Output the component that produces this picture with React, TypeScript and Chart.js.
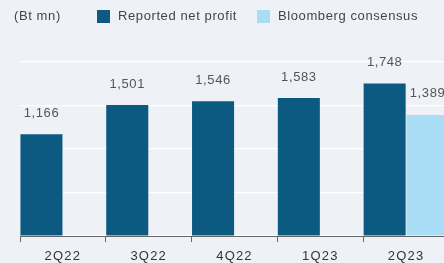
import React, { useEffect, useRef } from "react";
import { Chart, registerables } from "chart.js";

Chart.register(...registerables);

const categories = ["2Q22", "3Q22", "4Q22", "1Q23", "2Q23"];
const reportedNetProfit = [1166, 1501, 1546, 1583, 1748];
const bloombergConsensus = [null, null, null, null, 1389];
const yTicks = [0, 500, 1000, 1500, 2000];
const unitLabel = "(Bt mn)";
const seriesNames = ["Reported net profit", "Bloomberg consensus"];

const DARK = "#0c5a82";
const LIGHT = "#a9ddf6";
const BG = "#eef2f6";
const FONT = "'Liberation Sans', Arial, sans-serif";

const labelsPlugin = {
  id: "customLabels",
  afterDatasetsDraw(chart: any) {
    const ctx = chart.ctx;
    ctx.save();
    ctx.font = `13px ${FONT}`;
    ctx.fillStyle = "#555";
    ctx.textAlign = "center";
    ctx.textBaseline = "middle";
    (ctx as any).letterSpacing = "0.6px";
    chart.data.datasets.forEach((ds: any, di: number) => {
      const meta = chart.getDatasetMeta(di);
      meta.data.forEach((el: any, i: number) => {
        const v = ds.data[i];
        if (v == null) return;
        ctx.fillText(v.toLocaleString("en-US"), el.x, el.y - 21);
      });
    });
    // category labels
    const xs = chart.scales.x;
    (ctx as any).letterSpacing = "1.2px";
    ctx.fillStyle = "#333";
    categories.forEach((c, i) => {
      ctx.fillText(c, xs.getPixelForValue(i), 256);
    });
    ctx.restore();
  },
};

export default function App() {
  const ref = useRef<HTMLCanvasElement>(null);
  useEffect(() => {
    if (!ref.current) return;
    const chart = new Chart(ref.current, {
      type: "bar",
      data: {
        labels: categories,
        datasets: [
          {
            label: seriesNames[0],
            data: reportedNetProfit,
            backgroundColor: DARK,
            categoryPercentage: 1,
            barPercentage: 0.98,
          },
          {
            label: seriesNames[1],
            data: bloombergConsensus as any,
            backgroundColor: LIGHT,
            categoryPercentage: 1,
            barPercentage: 0.98,
          },
        ],
      },
      options: {
        responsive: false,
        animation: false,
        layout: { padding: { left: 20, right: 21, top: 61.6, bottom: 21 } },
        plugins: { legend: { display: false }, tooltip: { enabled: false } },
        scales: {
          x: {
            offset: true,
            grid: {
              offset: true,
              drawOnChartArea: false,
              drawTicks: true,
              tickLength: 6,
              color: "#666",
            },
            border: { display: true, color: "#666", width: 1 },
            ticks: { display: false },
          },
          y: {
            min: 0,
            max: 2000,
            afterBuildTicks: (axis: any) => {
              axis.ticks = yTicks.map((v) => ({ value: v }));
            },
            ticks: { display: false },
            border: { display: false },
            grid: { color: "#ffffff", lineWidth: 1.2, drawTicks: false },
          },
        },
      },
      plugins: [labelsPlugin],
    });
    return () => chart.destroy();
  }, []);

  const textStyle: React.CSSProperties = {
    position: "absolute",
    fontFamily: FONT,
    fontSize: 13,
    letterSpacing: "0.6px",
    color: "#444",
    lineHeight: "13px",
    top: 9,
    whiteSpace: "nowrap",
  };
  const sq = (left: number, color: string): React.CSSProperties => ({
    position: "absolute",
    left,
    top: 10,
    width: 13,
    height: 13,
    background: color,
  });

  return (
    <div
      style={{
        position: "fixed",
        left: 0,
        top: 0,
        width: 444,
        height: 263,
        overflow: "hidden",
        background: BG,
      }}
    >
      <canvas
        ref={ref}
        width={470}
        height={263}
        style={{ position: "absolute", left: 0, top: 0, width: 470, height: 263 }}
      />
      <div style={{ ...textStyle, left: 14 }}>{unitLabel}</div>
      <div style={sq(97, DARK)} />
      <div style={{ ...textStyle, left: 118 }}>{seriesNames[0]}</div>
      <div style={sq(257, LIGHT)} />
      <div style={{ ...textStyle, left: 278 }}>{seriesNames[1]}</div>
    </div>
  );
}
